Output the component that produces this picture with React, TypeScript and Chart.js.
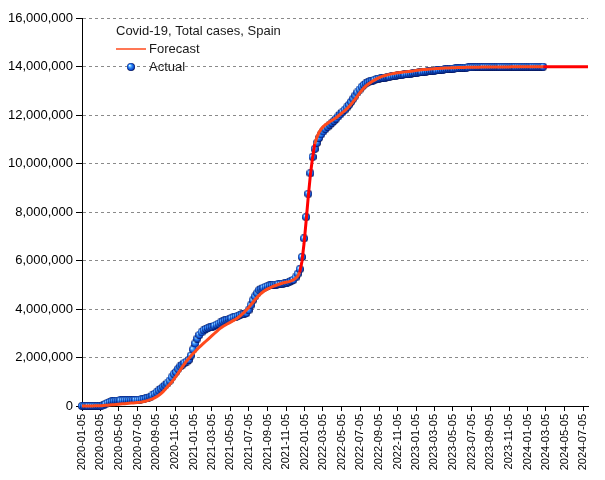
import React, { useEffect, useRef } from 'react';
import { Chart, registerables } from 'chart.js';

Chart.register(...registerables);

const START_DATE = '2020-01-05';
const DAYS_PER_STEP = 7;
const LEGEND_TITLE = 'Covid-19, Total cases, Spain';
const FORECAST_LABEL = 'Forecast';
const ACTUAL_LABEL = 'Actual';

const xTickLabels = [
  '2020-01-05', '2020-03-05', '2020-05-05', '2020-07-05', '2020-09-05', '2020-11-05',
  '2021-01-05', '2021-03-05', '2021-05-05', '2021-07-05', '2021-09-05', '2021-11-05',
  '2022-01-05', '2022-03-05', '2022-05-05', '2022-07-05', '2022-09-05', '2022-11-05',
  '2023-01-05', '2023-03-05', '2023-05-05', '2023-07-05', '2023-09-05', '2023-11-05',
  '2024-01-05', '2024-03-05', '2024-05-05', '2024-07-05',
];

const yMin = 0;
const yMax = 16000000;
const yStep = 2000000;

// Weekly values (thousands of cases), first week = START_DATE
const forecastThousands = [
  0, 1, 1, 2, 3, 4, 6, 8, 11, 15,
  20, 26, 33, 40, 48, 56, 64, 72, 80, 88,
  96, 104, 112, 120, 128, 136, 145, 155, 168, 185,
  205, 230, 260, 295, 335, 385, 445, 515, 595, 690,
  790, 890, 990, 1100, 1220, 1350, 1480, 1610, 1740, 1860,
  1960, 2060, 2160, 2250, 2340, 2430, 2510, 2590, 2670, 2750,
  2830, 2910, 2990, 3070, 3150, 3220, 3280, 3330, 3380, 3430,
  3480, 3530, 3580, 3640, 3710, 3790, 3870, 3960, 4050, 4160,
  4270, 4380, 4480, 4570, 4650, 4720, 4780, 4830, 4870, 4910,
  4950, 4980, 5010, 5040, 5070, 5090, 5110, 5130, 5160, 5200,
  5260, 5350, 5520, 5950, 6700, 7650, 8650, 9550, 10250, 10800,
  11080, 11280, 11420, 11520, 11600, 11660, 11720, 11770, 11830, 11890,
  11960, 12030, 12100, 12170, 12250, 12340, 12440, 12550, 12660, 12780,
  12900, 13010, 13110, 13200, 13270, 13330, 13390, 13440, 13490, 13530,
  13570, 13600, 13630, 13655, 13675, 13695, 13712, 13728, 13742, 13755,
  13767, 13778, 13788, 13797, 13806, 13815, 13830, 13842, 13853, 13863,
  13872, 13880, 13888, 13895, 13902, 13908, 13914, 13920, 13925, 13930,
  13935, 13939, 13943, 13947, 13950, 13953, 13956, 13959, 13961, 13963,
  13965, 13967, 13969, 13970, 13972, 13973, 13974, 13975, 13976, 13977,
  13978, 13979, 13980, 13980, 13981, 13982, 13982, 13983, 13983, 13984,
  13984, 13985, 13985, 13985, 13986, 13986, 13986, 13987, 13987, 13987,
  13988, 13988, 13988, 13988, 13989, 13989, 13989, 13989, 13990, 13990,
  13990, 13990, 13990, 13991, 13991, 13991, 13991, 13991, 13992, 13992,
  13992, 13992, 13992, 13992, 13993, 13993, 13993, 13993,
];

const actualThousands = [
  0, 0, 0, 0, 0, 0, 0, 0, 0, 5,
  25, 75, 130, 165, 195, 210, 218, 224, 230, 234,
  238, 241, 243, 246, 248, 251, 254, 262, 276, 295,
  320, 350, 385, 435, 495, 565, 640, 715, 790, 860,
  935, 1045, 1185, 1310, 1400, 1530, 1630, 1700, 1780, 1830,
  1900, 2080, 2330, 2580, 2780, 2930, 3040, 3120, 3180, 3215,
  3240, 3270, 3310, 3350, 3400, 3450, 3490, 3530, 3560, 3590,
  3620, 3650, 3690, 3720, 3750, 3780, 3800, 3830, 3950, 4150,
  4360, 4520, 4650, 4780, 4840, 4880, 4920, 4950, 4970, 4985,
  5000, 5010, 5020, 5030, 5045, 5060, 5080, 5110, 5160, 5200,
  5300, 5450, 5640, 6140, 6910, 7790, 8750, 9600, 10270, 10600,
  10850, 11050, 11200, 11320, 11420, 11510, 11600, 11680, 11760, 11850,
  11940, 12030, 12120, 12210, 12310, 12420, 12540, 12670, 12800, 12930,
  13050, 13160, 13240, 13300, 13350, 13390, 13420, 13450, 13475, 13500,
  13515, 13530, 13545, 13560, 13575, 13590, 13605, 13620, 13635, 13650,
  13662, 13674, 13686, 13698, 13710, 13722, 13734, 13746, 13758, 13770,
  13780, 13790, 13800, 13810, 13820, 13830, 13840, 13850, 13860, 13870,
  13880, 13888, 13896, 13904, 13912, 13920, 13927, 13934, 13941, 13948,
  13954, 13960, 13965, 13970, 13974, 13977, 13979, 13980, 13981, 13982,
  13982, 13983, 13983, 13984, 13984, 13985, 13985, 13985, 13986, 13986,
  13986, 13987, 13987, 13987, 13988, 13988, 13988, 13989, 13989, 13989,
  13990, 13990, 13990, 13991, 13991, 13991, 13992,
];

const FONT = '"Liberation Sans", Arial, sans-serif';
const ORANGE = '#ff4a1c';
const RED = '#ff0000';

function dayOf(label: string): number {
  return Math.round((Date.parse(label) - Date.parse(START_DATE)) / 86400000);
}

function makeSphere(size: number): HTMLCanvasElement {
  const c = document.createElement('canvas');
  c.width = size;
  c.height = size;
  const g = c.getContext('2d')!;
  const r = size / 2;
  const grad = g.createRadialGradient(r * 0.65, r * 0.6, 0.2, r, r, r);
  grad.addColorStop(0, '#f0faff');
  grad.addColorStop(0.2, '#7cc8ff');
  grad.addColorStop(0.45, '#2c86f5');
  grad.addColorStop(0.75, '#1050d0');
  grad.addColorStop(0.92, '#062080');
  grad.addColorStop(1, '#000a30');
  g.fillStyle = grad;
  g.beginPath();
  g.arc(r, r, r, 0, Math.PI * 2);
  g.fill();
  return c;
}

export default function App() {
  const canvasRef = useRef<HTMLCanvasElement | null>(null);

  useEffect(() => {
    document.body.style.margin = '0';
    const canvas = canvasRef.current;
    if (!canvas) return;
    const sphere = makeSphere(8);
    const lastActualDay = (actualThousands.length - 1) * DAYS_PER_STEP;

    const forecastData = forecastThousands.map((v, i) => ({ x: i * DAYS_PER_STEP, y: v * 1000 }));
    const actualData = actualThousands.map((v, i) => ({ x: i * DAYS_PER_STEP, y: v * 1000 }));
    const tickDays = xTickLabels.map(dayOf);

    const isRed = (ctx: any) =>
      ctx.p0.parsed.x >= lastActualDay || Math.abs(ctx.p1.parsed.y - ctx.p0.parsed.y) > 400000;

    const legendPlugin = {
      id: 'insideLegend',
      afterDatasetsDraw(chart: any) {
        const { ctx, chartArea } = chart;
        const x0 = chartArea.left + 34;
        const y0 = chartArea.top + 13;
        ctx.save();
        ctx.font = `13px ${FONT}`;
        ctx.fillStyle = '#1a1a1a';
        ctx.textBaseline = 'middle';
        ctx.textAlign = 'left';
        ctx.fillText(LEGEND_TITLE, x0, y0);
        ctx.strokeStyle = ORANGE;
        ctx.lineWidth = 1.5;
        ctx.beginPath();
        ctx.moveTo(x0, y0 + 18);
        ctx.lineTo(x0 + 30, y0 + 18);
        ctx.stroke();
        ctx.fillText(FORECAST_LABEL, x0 + 33, y0 + 18);
        ctx.drawImage(sphere, x0 + 15 - 4, y0 + 36 - 4);
        ctx.fillText(ACTUAL_LABEL, x0 + 33, y0 + 36);
        ctx.restore();
      },
    };

    const chart = new Chart(canvas, {
      type: 'line',
      data: {
        datasets: [
          {
            label: FORECAST_LABEL,
            data: forecastData,
            borderColor: ORANGE,
            borderWidth: 3,
            pointRadius: 0,
            fill: false,
            tension: 0,
            clip: false as any,
            segment: {
              borderColor: (ctx: any) => (isRed(ctx) ? RED : ORANGE),
            },
          },
          {
            label: ACTUAL_LABEL,
            data: actualData,
            showLine: false,
            pointStyle: sphere as any,
            pointRadius: 4,
            pointHoverRadius: 4,
            clip: false as any,
          },
        ],
      },
      options: {
        animation: false,
        responsive: false,
        events: [],
        layout: { padding: { top: 18, right: 17, left: 0, bottom: 0 } },
        plugins: {
          legend: { display: false },
          tooltip: { enabled: false },
        },
        scales: {
          x: {
            type: 'linear',
            min: 0,
            max: (forecastThousands.length - 1) * DAYS_PER_STEP,
            afterBuildTicks: (scale: any) => {
              scale.ticks = tickDays.map((d) => ({ value: d }));
            },
            afterFit: (scale: any) => {
              scale.height = 74;
            },
            ticks: {
              autoSkip: false,
              maxRotation: 90,
              minRotation: 90,
              padding: 3,
              color: '#000',
              font: { family: FONT, size: 11 },
              callback: (value: any) => {
                const i = tickDays.indexOf(Math.round(Number(value)));
                return i >= 0 ? xTickLabels[i] : '';
              },
            },
            grid: {
              drawOnChartArea: false,
              drawTicks: true,
              tickLength: 5,
              tickColor: '#000',
              tickWidth: 1,
            },
            border: { display: true, color: '#000', width: 1 },
          },
          y: {
            min: yMin,
            max: yMax,
            afterFit: (scale: any) => {
              scale.width = 82;
            },
            ticks: {
              stepSize: yStep,
              padding: 3,
              color: '#000',
              font: { family: FONT, size: 13 },
              callback: (value: any) => Number(value).toLocaleString('en-US'),
            },
            grid: {
              color: '#8a8a8a',
              lineWidth: 1,
              drawTicks: true,
              tickLength: 6,
              tickColor: '#000',
              tickWidth: 1,
              tickBorderDash: [],
            },
            border: { display: true, color: '#000', width: 1, dash: [3, 3] },
          },
        },
      },
      plugins: [legendPlugin],
    });

    return () => chart.destroy();
  }, []);

  return (
    <div style={{ width: 605, height: 480 }}>
      <canvas ref={canvasRef} width={605} height={480} style={{ display: 'block' }} />
    </div>
  );
}
